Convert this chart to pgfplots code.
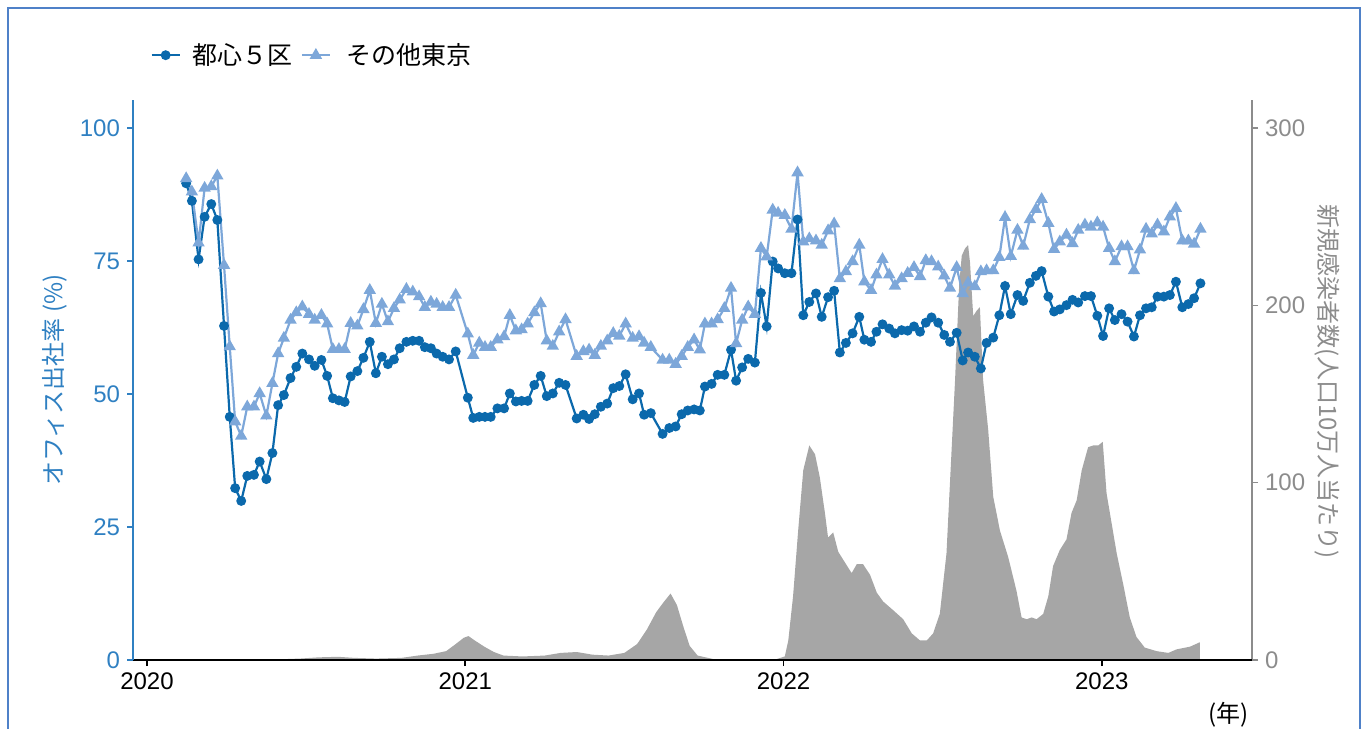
\documentclass[border=0pt]{standalone}
\usepackage{pgfplots}
\pgfplotsset{compat=1.18}
\usepackage{pgfplotstable}
\usepackage{fontspec}
\setmainfont{Liberation Sans}
\newfontfamily\jp{Noto Sans CJK JP}
\definecolor{dblue}{HTML}{0B69AC}
\definecolor{lblue}{HTML}{7DA7D9}
\definecolor{axblue}{HTML}{2F80C2}
\definecolor{axgray}{HTML}{8C8C8C}
\definecolor{areagray}{HTML}{A6A6A6}
\definecolor{frameblue}{HTML}{4F81C8}

\pgfplotstableread{
x d l
2020.123 89.6 90.5
2020.141 86.3 88.0
2020.162 75.3 78.4
2020.181 83.3 88.7
2020.202 85.7 89.0
2020.221 82.7 91.0
2020.242 62.8 74.2
2020.260 45.7 58.9
2020.277 32.3 44.8
2020.296 29.9 42.1
2020.315 34.6 47.6
2020.336 34.8 47.6
2020.354 37.3 50.1
2020.375 34.0 45.9
2020.394 38.9 52.0
2020.412 47.9 57.6
2020.430 49.8 60.5
2020.451 53.0 63.9
2020.469 55.1 65.3
2020.488 57.6 66.4
2020.509 56.5 65.0
2020.527 55.3 63.9
2020.548 56.4 64.8
2020.566 53.4 63.2
2020.584 49.2 58.4
2020.603 48.8 58.4
2020.621 48.5 58.4
2020.640 53.3 63.3
2020.661 54.3 62.8
2020.680 56.8 65.9
2020.700 59.8 69.5
2020.719 53.9 63.3
2020.738 57.0 66.9
2020.757 55.6 63.6
2020.776 56.5 66.1
2020.794 58.6 67.7
2020.815 59.8 69.7
2020.835 60.0 69.2
2020.855 60.0 68.3
2020.873 58.8 66.3
2020.892 58.6 67.3
2020.910 57.6 66.9
2020.929 57.0 66.3
2020.949 56.5 66.3
2020.970 58.0 68.6
2021.008 49.3 61.3
2021.025 45.5 57.3
2021.044 45.7 59.6
2021.062 45.7 58.8
2021.080 45.7 58.8
2021.101 47.3 60.2
2021.122 47.3 60.8
2021.140 50.1 64.8
2021.159 48.6 61.9
2021.177 48.7 62.1
2021.196 48.7 63.2
2021.217 51.7 65.3
2021.237 53.4 67.0
2021.256 49.6 60.0
2021.275 50.1 59.0
2021.295 52.1 61.7
2021.315 51.7 64.0
2021.350 45.4 57.1
2021.371 46.1 58.0
2021.389 45.3 58.3
2021.407 46.2 57.3
2021.426 47.6 59.0
2021.446 48.2 60.0
2021.465 51.1 61.4
2021.484 51.5 60.9
2021.504 53.7 63.2
2021.526 49.0 60.5
2021.546 50.1 60.8
2021.562 46.1 59.6
2021.583 46.4 58.8
2021.620 42.5 56.4
2021.641 43.6 56.4
2021.661 43.9 55.6
2021.680 46.2 57.1
2021.699 46.9 58.8
2021.719 47.1 60.2
2021.737 46.9 58.3
2021.753 51.4 63.2
2021.774 51.9 63.2
2021.793 53.6 64.0
2021.814 53.6 66.1
2021.835 58.3 69.9
2021.851 52.5 59.5
2021.870 55.0 63.9
2021.889 56.6 66.4
2021.910 55.9 65.0
2021.929 69.0 77.4
2021.947 62.7 75.8
2021.966 74.9 84.6
2021.983 73.6 84.0
2022.004 72.7 83.6
2022.025 72.7 81.0
2022.044 82.8 91.6
2022.062 64.8 78.6
2022.081 67.3 79.2
2022.102 68.9 78.8
2022.120 64.5 78.0
2022.140 68.2 80.7
2022.159 69.4 82.0
2022.177 57.8 71.7
2022.196 59.6 73.0
2022.217 61.4 74.9
2022.238 64.5 78.0
2022.254 60.2 71.1
2022.275 59.8 69.5
2022.292 61.7 72.4
2022.311 63.1 75.3
2022.332 62.3 72.4
2022.350 61.4 70.3
2022.371 62.0 71.7
2022.390 61.9 72.7
2022.410 62.7 73.8
2022.429 61.7 72.1
2022.447 63.4 75.1
2022.465 64.4 74.9
2022.486 63.4 73.9
2022.505 61.1 72.2
2022.523 59.8 69.9
2022.544 61.5 73.8
2022.563 56.3 68.9
2022.580 57.8 70.9
2022.601 57.0 70.2
2022.620 54.8 73.0
2022.638 59.6 73.2
2022.659 60.6 73.2
2022.678 64.8 75.7
2022.696 70.3 83.2
2022.714 65.0 75.9
2022.735 68.6 80.8
2022.753 67.5 77.8
2022.774 70.9 82.8
2022.793 72.2 84.7
2022.811 73.1 86.6
2022.832 68.3 82.1
2022.850 65.5 77.2
2022.868 65.9 78.6
2022.889 66.7 79.9
2022.908 67.7 78.3
2022.926 67.2 80.8
2022.947 68.4 81.8
2022.966 68.4 81.4
2022.986 64.7 82.2
2023.004 60.9 81.4
2023.023 66.1 77.4
2023.041 63.9 74.9
2023.062 65.0 77.7
2023.081 63.6 77.7
2023.101 60.8 73.2
2023.120 64.8 77.1
2023.139 66.1 81.0
2023.157 66.3 80.1
2023.175 68.3 81.8
2023.195 68.3 80.5
2023.214 68.6 83.3
2023.233 71.1 84.9
2023.253 66.3 78.8
2023.272 66.9 78.8
2023.290 68.0 78.2
2023.310 70.8 81.0
}\offdata

\pgfplotstableread{
x v
2020.050 0
2020.250 0
2020.300 0.5
2020.400 0.3
2020.480 0.8
2020.540 1.5
2020.600 1.8
2020.650 1.2
2020.720 0.8
2020.800 1.2
2020.850 2.5
2020.900 3.5
2020.940 5
2020.970 9
2020.995 12.5
2021.010 13.5
2021.030 11
2021.060 7.5
2021.090 4.5
2021.120 2.5
2021.180 2
2021.250 2.5
2021.300 4
2021.350 4.5
2021.400 3
2021.450 2.5
2021.500 4
2021.540 9
2021.570 17
2021.600 27
2021.625 33
2021.645 37.5
2021.665 31
2021.685 19
2021.705 8
2021.730 2.5
2021.780 0.5
2021.900 0.3
2021.978 0.5
2022.004 2
2022.015 11
2022.030 36
2022.046 73
2022.062 107
2022.081 121
2022.099 116
2022.114 103
2022.130 83
2022.140 69
2022.156 72
2022.172 61
2022.193 55
2022.214 49
2022.230 54
2022.250 54
2022.272 48
2022.293 38
2022.313 33
2022.345 28
2022.376 23
2022.403 15
2022.429 11
2022.450 11
2022.470 15
2022.491 26
2022.512 60
2022.523 100
2022.539 158
2022.552 212
2022.560 228
2022.570 232
2022.580 234
2022.586 224
2022.596 194
2022.607 197
2022.617 199
2022.627 158
2022.643 130
2022.659 92
2022.680 73
2022.706 58
2022.732 39
2022.748 24
2022.764 23
2022.780 24
2022.795 23
2022.816 26
2022.832 36
2022.847 53
2022.868 62
2022.889 68
2022.905 83
2022.921 90
2022.937 107
2022.957 120
2022.973 121
2022.989 121
2023.003 123
2023.015 94
2023.031 77
2023.047 60
2023.067 43
2023.088 24
2023.109 13
2023.135 7
2023.172 5
2023.209 4
2023.235 6
2023.277 7.5
2023.308 10
}\infdata

\begin{document}
\begin{tikzpicture}[x=0.5pt,y=0.5pt]
\useasboundingbox (0,0) rectangle (1367,729);
\draw[frameblue, line width=1pt] (8,-10) rectangle (1360,721);

% right axis: infections (area)
\begin{axis}[
  at={(66.5pt,34.5pt)}, anchor=south west,
  scale only axis, width=559.5pt, height=280pt,
  xmin=2019.956, xmax=2023.472, ymin=0, ymax=315.8,
  axis y line*=right, axis x line=none,
  axis line style={-},
  ytick={0,100,200,300},
  y axis line style={axgray, line width=0.8pt},
  ytick style={axgray, line width=0.8pt},
  tick align=outside, major tick length=3pt,
  yticklabel style={axgray, font=\fontsize{12}{14}\selectfont},
  /pgf/number format/assume math mode=true,
  ylabel={\jp 新規感染者数(人口10万人当たり)},
  ylabel style={axgray, font=\fontsize{12}{14}\selectfont, rotate=180,
    at={(axis description cs:1.067,0.497)}, anchor=center},
]
\addplot[fill=areagray, draw=none] table[x=x,y=v]{\infdata} \closedcycle;
\end{axis}

% left axis: office attendance
\begin{axis}[
  at={(66.5pt,34.5pt)}, anchor=south west,
  scale only axis, width=559.5pt, height=280pt,
  xmin=2019.956, xmax=2023.472, ymin=0, ymax=105.26,
  axis y line*=left, axis x line*=bottom,
  axis line style={-},
  x axis line style={black, line width=0.8pt},
  y axis line style={axblue, line width=0.8pt},
  xtick={2020,2021,2022,2023}, xticklabels={2020,2021,2022,2023},
  ytick={0,25,50,75,100},
  xtick style={black, line width=0.8pt},
  ytick style={axblue, line width=0.8pt},
  tick align=outside, major tick length=3pt,
  xticklabel style={black, font=\fontsize{12}{14}\selectfont},
  yticklabel style={axblue, font=\fontsize{12}{14}\selectfont},
  /pgf/number format/assume math mode=true,
  ylabel={\jp オフィス出社率 (\%)},
  ylabel style={axblue, font=\fontsize{12}{14}\selectfont,
    at={(axis description cs:-0.07,0.5)}, anchor=center},
  xlabel={\jp (年)},
  xlabel style={black, font=\fontsize{12}{14}\selectfont,
    at={(axis description cs:0.979,-0.098)}, anchor=center},
  legend style={at={(axis description cs:0.01,1.08)}, anchor=west,
    draw=none, fill=none, legend columns=2,
    font=\jp\fontsize{12.5}{14}\selectfont,
    /tikz/every even column/.append style={column sep=2pt}},
  legend image code/.code={
    \draw[mark repeat=2,mark phase=2,#1] plot coordinates {(0pt,0pt)(7pt,0pt)(14pt,0pt)};},
]
\addplot[dblue, line width=1.1pt, mark=*, mark size=1.9pt] table[x=x,y=d]{\offdata};
\addlegendentry{\hspace{4pt}都心５区}
\addplot[lblue, line width=1.1pt, mark=triangle*, mark size=2.5pt] table[x=x,y=l]{\offdata};
\addlegendentry{\hspace{6pt}その他東京}
\end{axis}
\end{tikzpicture}
\end{document}
